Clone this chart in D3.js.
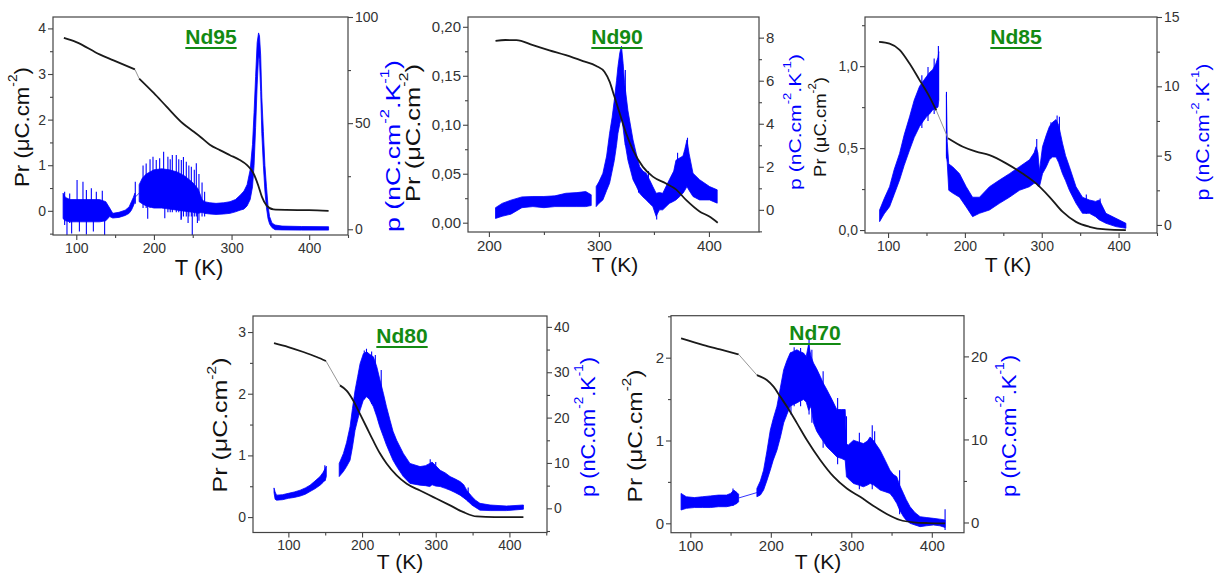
<!DOCTYPE html>
<html><head><meta charset="utf-8">
<script src="https://cdn.jsdelivr.net/npm/d3@7"></script>
<style>
body{margin:0;background:#fff}
svg{display:block}
text{font-family:"Liberation Sans",Arial,Helvetica,sans-serif}
</style>
</head><body>
<svg id="c" width="1215" height="574"></svg>
<script>
// ---------------- DATA ----------------
const panelNames = ["Nd95", "Nd90", "Nd85", "Nd80", "Nd70"];

// Nd95: Pr (black, left axis) and p envelope (blue, right axis)
const nd95_T  = [84, 100, 130, 148, 175.5, 181, 200, 216, 237, 250, 260, 272, 285, 298, 310, 320, 328, 334.5, 339, 345, 354, 370, 400, 425];
const nd95_Pr = [3.79, 3.70, 3.43, 3.30, 3.10, 2.90, 2.58, 2.29, 1.92, 1.75, 1.62, 1.45, 1.33, 1.22, 1.12, 1.00, 0.83, 0.55, 0.31, 0.12, 0.03, 0.02, 0.015, 0.0];
const nd95_thin = [175.5, 181];
const nd95_pT  = [83, 86, 92, 100, 110, 120, 130, 138, 143, 147, 155, 163, 168, 171, 173.5, 175.5,
                  181, 185, 190, 200, 210, 220, 230, 240, 250, 257, 262,
                  265, 272, 280, 290, 298, 305, 311, 316, 320, 324, 327, 329, 331, 333, 334.8, 336, 337.5, 339, 341, 343, 345, 347, 349, 352, 356, 365, 390, 425];
const nd95_pLo = [5, 4, 3.5, 3.5, 3.5, 3.5, 3.5, 4, 6, 5.3, 5.6, 6.5, 7.5, 9, 11, 13,
                  13, 12, 11, 10, 10, 9.5, 9, 8.5, 8, 7.5, 8,
                  7.5, 7.2, 7, 7.2, 7.5, 8.2, 9, 9.5, 11, 14, 20, 30, 48, 68, 82, 80, 65, 45, 30, 18, 10, 5, 2.5, 0.8, -0.2, -0.3, -0.4, -0.4];
const nd95_pHi = [17, 15, 14, 14, 14, 14, 14, 13, 10, 7.5, 8, 9, 10.5, 13, 15, 17,
                  21, 24, 26, 28, 28.5, 28, 27, 25, 22, 19, 14,
                  13, 12.5, 12.2, 12.5, 13, 14, 16, 18, 21, 28, 40, 55, 72, 88, 92.5, 91, 82, 62, 46, 30, 20, 11, 6, 3, 2, 1.5, 1.3, 1.2];
const nd95_gaps = [[175.5, 180.8, 1]];
const nd95_sT  = [85, 88, 91.5, 94, 101, 104, 108.6, 113, 119.4, 122, 125.8, 133.5, 136.5, 176,
                  186, 190, 195, 198.8, 203, 207.4, 212.5, 218, 221, 223.7, 228.8, 232, 235.3, 238, 241.7, 245, 248.2, 249.4, 252, 254.6, 258, 262, 265.3,
                  192, 214, 235, 244, 256];
const nd95_sLo = [2, -2.7, 3, -2, 5, -1, 5, -2.5, 5, -1, 5, 5, -2.7, 12,
                  10, 10, 10, 10, 10, 10, 10, 8, 8, 8, 8, 8, 5, 6, 6, 6, 6, -2.7, 6, 6, 4, 6, 6,
                  5, 5.2, 4.4, 3, 3];
const nd95_sHi = [17.7, 10, 16.9, 8, 23.2, 8, 22.4, 18.5, 19.3, 8, 17.7, 18.2, 8, 22.4,
                  30, 31, 33, 34.2, 32.6, 33.4, 36.5, 34.2, 33, 35, 35, 33, 32.6, 34, 31.8, 30, 29.5, 8, 28, 31.1, 26, 22, 17.7,
                  12, 12, 12, 10, 10];

// Nd90
const nd90_T  = [206, 215, 225, 240, 255, 270, 285.5, 297.6, 305, 309.7, 314, 318.8, 324.8, 331, 340, 349, 361, 370, 379.4, 391.5, 400, 408];
const nd90_Pr = [0.1857, 0.1865, 0.1864, 0.1813, 0.176, 0.171, 0.165, 0.160, 0.154, 0.144, 0.129, 0.112, 0.091, 0.074, 0.057, 0.047, 0.040, 0.034, 0.023, 0.0115, 0.0065, 0.0];
const nd90_thin = [];
const nd90_pT  = [206, 212, 220, 230, 240, 250, 260, 270, 280, 288, 293,
                  297.5, 300, 303.6, 307, 309.7, 312, 314, 316, 317.3, 319, 320.5, 322, 323.3, 326.4, 331, 334, 337, 340, 343, 346, 349, 352, 355, 358, 364, 368, 370, 373, 376.4, 378, 380, 382, 385.5, 391.5, 400.6, 407.5];
const nd90_pLo = [-0.4, -0.3, -0.2, 0.1, 0.15, 0.1, 0.15, 0.15, 0.15, 0.15, 0.2,
                  0.15, 0.3, 0.46, 0.9, 1.24, 1.8, 2.3, 3.0, 3.56, 4.0, 4.3, 3.8, 3.25, 2.3, 1.4, 1.1, 0.77, 0.6, 0.46, 0.3, 0.15, -0.3, 0.0, 0.0, 0.3, 0.4, 0.46, 0.6, 0.77, 0.9, 1.08, 0.9, 0.62, 0.46, 0.46, 0.31];
const nd90_pHi = [0.1, 0.3, 0.45, 0.6, 0.62, 0.62, 0.65, 0.77, 0.8, 0.85, 0.7,
                  1.08, 1.3, 1.7, 2.5, 3.56, 4.3, 5.1, 6.0, 6.66, 7.3, 7.6, 6.8, 5.9, 4.6, 3.25, 2.6, 2.0, 1.8, 1.7, 1.4, 1.08, 0.77, 0.8, 0.77, 1.4, 1.8, 2.3, 2.4, 2.5, 2.8, 3.25, 2.6, 1.7, 1.4, 1.08, 0.93];
const nd90_gaps = [[293, 297.5, 0]];
const nd90_sT  = [336, 345, 352.5, 371.5, 380.5, 324];
const nd90_sLo = [0.8, 0.4, -0.45, 1, 1.2, 3];
const nd90_sHi = [2.1, 1.8, 0.6, 2.65, 3.35, 6.5];

// Nd85
const nd85_T  = [88.3, 102, 115, 128, 141, 154, 162.8, 178, 197.4, 214.7, 232, 253.7, 275, 292.6, 310, 327, 344.6, 362, 383.5, 409.5];
const nd85_Pr = [1.148, 1.138, 1.10, 1.016, 0.915, 0.813, 0.73, 0.56, 0.508, 0.478, 0.457, 0.407, 0.345, 0.285, 0.203, 0.112, 0.05, 0.02, 0.004, 0.0];
const nd85_thin = [162.8, 178];
const nd85_pT  = [89, 95, 102, 108, 115, 121, 128, 134, 141, 146, 150, 154, 158, 162, 165, 166,
                  176, 177, 179, 184, 193, 201.7, 210, 219, 232, 245, 258, 271, 284, 290, 292.6, 295, 297, 301, 306, 310, 314, 318.6, 322, 327, 331, 336, 344.6, 353, 362, 370, 375, 383.5, 396.5, 409.5];
const nd85_pLo = [0.24, 0.8, 1.32, 2.2, 3.24, 4.3, 5.4, 6.3, 7.1, 7.5, 7.8, 8.0, 8.3, 8.4, 8.5, 9,
                  5, 4.5, 2.5, 2.3, 2.0, 1.3, 0.6, 0.84, 1.08, 1.56, 2.0, 2.5, 2.76, 3.0, 3.0, 2.8, 2.76, 3.7, 4.2, 4.7, 4.9, 4.9, 4.5, 3.7, 3.2, 2.5, 1.56, 0.84, 0.84, 0.6, 0.36, 0.12, -0.12, -0.24];
const nd85_pHi = [1.08, 1.9, 2.76, 4.0, 5.16, 6.5, 7.8, 9.0, 10.0, 10.4, 10.7, 11.0, 11.2, 11.6, 12.1, 12.5,
                  9.4, 6, 4.4, 4.2, 3.7, 2.76, 2.0, 2.0, 2.76, 3.24, 3.7, 4.2, 4.7, 5.2, 5.64, 5.2, 3.9, 5.64, 6.5, 7.1, 7.4, 7.6, 7.2, 5.9, 5.0, 4.2, 2.76, 2.0, 1.8, 1.7, 1.8, 0.84, 0.48, 0.12];
const nd85_gaps = [[166, 176, 0]];
const nd85_sT  = [165.5, 176, 293.5, 312, 320, 323, 376, 358, 160, 152, 144];
const nd85_sLo = [9, 4.8, 3, 5, 5, 4.8, 0.4, 0.8, 8, 7.5, 7];
const nd85_sHi = [12.9, 9.6, 6.2, 7.4, 7.9, 7.8, 1.9, 2.2, 12, 11.4, 10.8];

// Nd80
const nd80_T  = [80.5, 100, 120.4, 138.5, 151, 170, 179, 188, 197, 206, 215, 224.4, 233.5, 247, 260.6, 278.7, 296.8, 319.5, 337.6, 355.7, 380, 419];
const nd80_Pr = [2.82, 2.757, 2.676, 2.595, 2.53, 2.135, 2.05, 1.89, 1.676, 1.46, 1.243, 1.03, 0.865, 0.676, 0.54, 0.43, 0.324, 0.19, 0.08, 0.01, 0.0, 0.0];
const nd80_thin = [151, 170];
const nd80_pT  = [80.5, 82, 84, 92, 100, 108, 116, 123, 129.4, 136, 143, 147, 150, 151.5,
                  169, 174.7, 179, 183.7, 187, 190.5, 194, 197.3, 201.8, 206.3, 210, 215.4, 220, 224, 229, 233, 238, 242, 247, 256, 265, 278.7, 286, 292, 295, 300, 306, 313, 319.5, 326, 333, 338, 342, 346, 349, 354, 360, 373.8, 396, 419];
const nd80_pLo = [3.5, 2, 1.8, 1.9, 2.2, 2.4, 2.7, 3.1, 3.7, 4.3, 5.1, 5.7, 6.2, 7,
                  7.0, 8.1, 9.2, 10.6, 13.5, 17.2, 19.5, 21.6, 23.9, 24.6, 24, 22.4, 20.2, 18, 15.8, 14, 12.1, 10.6, 9.2, 7.0, 5.5, 5.1, 5.0, 4.8, 5.2, 4.9, 4.8, 4.4, 4.0, 3.5, 2.9, 2.3, 1.8, 1.2, 0.73, 0.2, -0.4, -0.5, -0.5, -0.2];
const nd80_pHi = [4.5, 3.6, 2.9, 3.0, 3.3, 3.6, 4.0, 4.5, 5.1, 6.0, 7.0, 7.9, 8.8, 9.3,
                  9.9, 12.1, 14.5, 18, 22, 26, 29, 31.9, 34.1, 34.5, 34, 33.4, 31.2, 28.5, 25.3, 22.5, 19.4, 17, 15, 12.1, 9.9, 9.2, 9.4, 9.9, 10.2, 9.4, 8.4, 7.8, 7.0, 6.5, 5.9, 5.2, 4.0, 3.2, 2.6, 1.8, 1.1, 0.73, 0.5, 0.73];
const nd80_gaps = [[151.5, 169, 0]];
const nd80_sT  = [206, 203, 213, 292.5, 300, 344, 149.5, 218, 226];
const nd80_sLo = [25, 24, 23, 5, 5, 1.5, 6, 22, 18];
const nd80_sHi = [35.2, 34.8, 34.6, 10.8, 10.2, 4.6, 9.5, 33.8, 30.5];

// Nd70
const nd70_T  = [88.5, 116.5, 137, 160, 182.7, 195, 203.4, 211.7, 220, 232.4, 244.8, 261.4, 278, 294.5, 311, 327.6, 344, 360.6, 377, 395, 416.5];
const nd70_Pr = [2.233, 2.153, 2.10, 2.04, 1.79, 1.73, 1.65, 1.53, 1.41, 1.21, 1.006, 0.765, 0.563, 0.42, 0.32, 0.21, 0.113, 0.04, 0.012, 0.003, 0.0];
const nd70_thin = [160, 182.7];
const nd70_pT  = [88.5, 95, 105, 115, 125, 135, 145, 150, 154, 158, 160,
                  182.7, 187, 191, 195, 199.3, 203, 207.6, 212, 216, 220, 224, 228, 232.4, 236, 240.7, 244, 247, 250, 253, 257, 261.4, 265, 269.6, 276, 282, 288, 292.4, 294, 296, 302.7, 309, 315, 320, 323.4, 328, 335.8, 342, 348, 352, 356.5, 360, 364.8, 368, 373, 379, 385.5, 393, 402, 410, 416.5];
const nd70_pLo = [1.5, 1.7, 1.8, 1.8, 1.8, 1.9, 1.9, 2.0, 2.1, 2.3, 2.5,
                  3.1, 3.3, 3.9, 5.0, 6.3, 7.5, 8.7, 10.3, 12, 13, 14, 14.2, 14.4, 14.6, 14.8, 14.5, 13.5, 14, 12, 11, 10.3, 9.8, 9.1, 8.5, 7.9, 7.7, 7.5, 5.5, 5.3, 4.7, 4.5, 4.3, 4.5, 4.7, 4.5, 3.9, 3.7, 3.5, 3.0, 2.3, 1.5, 0.7, 0.3, -0.1, -0.3, -0.5, -0.4, -0.3, -0.4, -0.6];
const nd70_pHi = [3.5, 3.1, 3.0, 3.1, 3.2, 3.3, 3.3, 3.5, 3.9, 3.6, 3.4,
                  4.1, 5.0, 6.3, 8.5, 11.1, 12.5, 14, 16.3, 18.4, 19.5, 20.4, 20.6, 20.8, 20.6, 20.4, 20, 21.5, 20, 19.2, 18.5, 17.6, 16.8, 16, 14.8, 13.6, 13.6, 13.6, 9.5, 9.3, 9.9, 9.7, 9.5, 9.8, 10.3, 9.8, 8.7, 7.5, 6.3, 5.8, 5.5, 4.5, 3.5, 2.8, 1.9, 1.2, 0.7, 0.6, 0.5, 0.4, 0.3];
const nd70_gaps = [[160, 182.7, 1]];
const nd70_sT  = [247.5, 229, 237, 225, 251, 326, 329, 294, 416.5, 360, 153, 265, 283, 310];
const nd70_sLo = [13, 14, 14, 13, 12, 4, 4.5, 7, -0.9, 1, 2, 9, 7, 4];
const nd70_sHi = [22.2, 21.1, 21, 20.5, 20.8, 11.7, 11, 12.8, 1.6, 6.3, 4.1, 18.2, 15, 10.8];

// Tick values
const nd95_xTicks = [100, 200, 300, 400], nd95_lTicks = [0, 1, 2, 3, 4], nd95_rTicks = [0, 50, 100];
const nd90_xTicks = [200, 300, 400], nd90_lTicks = [0, 0.05, 0.10, 0.15, 0.20], nd90_rTicks = [0, 2, 4, 6, 8];
const nd85_xTicks = [100, 200, 300, 400], nd85_lTicks = [0, 0.5, 1.0], nd85_rTicks = [0, 5, 10, 15];
const nd80_xTicks = [100, 200, 300, 400], nd80_lTicks = [0, 1, 2, 3], nd80_rTicks = [0, 10, 20, 30, 40];
const nd70_xTicks = [100, 200, 300, 400], nd70_lTicks = [0, 1, 2], nd70_rTicks = [0, 10, 20];

// ---------------- LAYOUT ----------------
const BLUE = "#0000ff", GREEN = "#138a13", AXIS = "#444", TXT = "#333";
const comma = d3.formatLocale({decimal: ",", thousands: ".", grouping: [3], currency: ["", ""]});
const fInt = d3.format("d"), fC2 = comma.format(".2f"), fC1 = comma.format(".1f");

// lLab / rLab: [centerX, centerY, fontSize, targetLength]
const layout = {
  Nd95: {x0: 53, x1: 348, y0: 17, y1: 235, xDom: [70, 450], lDom: [-0.53, 4.25], rDom: [-2.7, 100],
         xMinor: 50, lMinor: 0.5, rMinor: 25, lFmt: fInt, tickFs: 14,
         title: [211, 44], xLab: [199, 275, 22], lLab: [21, 127, 21, 120], rLab: [393, 146, 20, 172]},
  Nd90: {x0: 468, x1: 759, y0: 17, y1: 232, xDom: [181, 445.5], lDom: [-0.0095, 0.21], rDom: [-1.03, 8.96],
         xMinor: 50, lMinor: 0.025, rMinor: 1, lFmt: fC2, tickFs: 15,
         title: [617, 44], xLab: [615, 272, 21], lLab: [413, 133, 21, 138], rLab: [795, 122, 17, 136]},
  Nd85: {x0: 865, x1: 1157, y0: 17, y1: 233, xDom: [70, 450], lDom: [-0.018, 1.3], rDom: [-0.58, 15],
         xMinor: 50, lMinor: 0.25, rMinor: 2.5, lFmt: fC1, tickFs: 14,
         title: [1016, 44], xLab: [1008, 272, 21], lLab: [820, 127, 17, 100], rLab: [1203, 132, 18, 137]},
  Nd80: {x0: 253, x1: 547, y0: 316, y1: 532.5, xDom: [52, 451], lDom: [-0.25, 3.26], rDom: [-5.33, 42.4],
         xMinor: 50, lMinor: 0.5, rMinor: 5, lFmt: fInt, tickFs: 14,
         title: [402, 343], xLab: [400, 569, 21], lLab: [220, 425, 20, 135], rLab: [587, 427, 20, 140]},
  Nd70: {x0: 671, x1: 964, y0: 315.7, y1: 532.7, xDom: [76, 440], lDom: [-0.1135, 2.507], rDom: [-1.23, 24.9],
         xMinor: 50, lMinor: 0.5, rMinor: 5, lFmt: fInt, tickFs: 15,
         title: [815, 340], xLab: [818, 569, 21], lLab: [635, 436, 20, 133], rLab: [1008, 426, 20, 142]}
};

const dataByName = {
  Nd95: {T: nd95_T, Pr: nd95_Pr, thin: nd95_thin, pT: nd95_pT, pLo: nd95_pLo, pHi: nd95_pHi, gaps: nd95_gaps, sT: nd95_sT, sLo: nd95_sLo, sHi: nd95_sHi, xT: nd95_xTicks, lT: nd95_lTicks, rT: nd95_rTicks},
  Nd90: {T: nd90_T, Pr: nd90_Pr, thin: nd90_thin, pT: nd90_pT, pLo: nd90_pLo, pHi: nd90_pHi, gaps: nd90_gaps, sT: nd90_sT, sLo: nd90_sLo, sHi: nd90_sHi, xT: nd90_xTicks, lT: nd90_lTicks, rT: nd90_rTicks},
  Nd85: {T: nd85_T, Pr: nd85_Pr, thin: nd85_thin, pT: nd85_pT, pLo: nd85_pLo, pHi: nd85_pHi, gaps: nd85_gaps, sT: nd85_sT, sLo: nd85_sLo, sHi: nd85_sHi, xT: nd85_xTicks, lT: nd85_lTicks, rT: nd85_rTicks},
  Nd80: {T: nd80_T, Pr: nd80_Pr, thin: nd80_thin, pT: nd80_pT, pLo: nd80_pLo, pHi: nd80_pHi, gaps: nd80_gaps, sT: nd80_sT, sLo: nd80_sLo, sHi: nd80_sHi, xT: nd80_xTicks, lT: nd80_lTicks, rT: nd80_rTicks},
  Nd70: {T: nd70_T, Pr: nd70_Pr, thin: nd70_thin, pT: nd70_pT, pLo: nd70_pLo, pHi: nd70_pHi, gaps: nd70_gaps, sT: nd70_sT, sLo: nd70_sLo, sHi: nd70_sHi, xT: nd70_xTicks, lT: nd70_lTicks, rT: nd70_rTicks}
};

const svg = d3.select("#c");

function minorTicks(dom, step, majors) {
  const out = [];
  const start = Math.ceil(dom[0] / step - 1e-9);
  for (let k = start; k * step <= dom[1] + 1e-9; k++) {
    const v = +(k * step).toFixed(6);
    if (!majors.some(m => Math.abs(m - v) < 1e-9)) out.push(v);
  }
  return out;
}

function supLabel(sel, parts) {
  parts.forEach(([t, s], i) => {
    const prevSup = i > 0 && parts[i - 1][1];
    const ts = sel.append("tspan").text(t);
    if (s) ts.attr("font-size", "0.62em").attr("dy", "-0.7em");
    else if (prevSup) ts.attr("dy", "0.434em");
  });
}

function rotLabel(g, spec, color, parts) {
  const [cx, cy, fs, len] = spec;
  const t = g.append("text").attr("text-anchor", "middle").attr("dominant-baseline", "central")
    .attr("font-size", fs).attr("fill", color);
  supLabel(t, parts);
  const w = t.node().getBBox().width;
  const k = len / w;
  t.attr("transform", `translate(${cx},${cy}) rotate(-90) scale(${k},1)`);
}

function drawPanel(name) {
  const L = layout[name], D = dataByName[name];
  const x = d3.scaleLinear().domain(L.xDom).range([L.x0, L.x1]);
  const yL = d3.scaleLinear().domain(L.lDom).range([L.y1, L.y0]);
  const yR = d3.scaleLinear().domain(L.rDom).range([L.y1, L.y0]);
  const g = svg.append("g");

  const clipId = "clip" + name;
  svg.append("clipPath").attr("id", clipId).append("rect")
    .attr("x", L.x0).attr("y", L.y0).attr("width", L.x1 - L.x0).attr("height", L.y1 - L.y0);
  const plot = g.append("g").attr("clip-path", `url(#${clipId})`);

  // blue envelope, split into segments at gaps
  const pts = D.pT.map((t, i) => ({t, lo: D.pLo[i], hi: D.pHi[i]}));
  const segs = []; let cur = [];
  pts.forEach((d, i) => {
    if (i > 0 && D.gaps.some(gp => pts[i - 1].t <= gp[0] && d.t >= gp[1])) { segs.push(cur); cur = []; }
    cur.push(d);
  });
  segs.push(cur);
  const area = d3.area().x(d => x(d.t)).y0(d => yR(d.lo)).y1(d => yR(d.hi));
  segs.forEach(s => plot.append("path").attr("d", area(s))
    .attr("fill", BLUE).attr("stroke", BLUE).attr("stroke-width", 0.8).attr("stroke-linejoin", "round"));
  D.gaps.filter(gp => gp[2]).forEach(gp => {
    const a = pts.filter(d => d.t <= gp[0]).slice(-1)[0];
    const b = pts.find(d => d.t >= gp[1]);
    plot.append("line").attr("x1", x(a.t)).attr("x2", x(b.t))
      .attr("y1", yR((a.lo + a.hi) / 2)).attr("y2", yR((b.lo + b.hi) / 2))
      .attr("stroke", BLUE).attr("stroke-width", 0.8);
  });
  plot.selectAll("line.sp").data(D.sT.map((t, i) => ({t, lo: D.sLo[i], hi: D.sHi[i]}))).enter()
    .append("line").attr("class", "sp")
    .attr("x1", d => x(d.t)).attr("x2", d => x(d.t))
    .attr("y1", d => yR(d.lo)).attr("y2", d => yR(d.hi))
    .attr("stroke", BLUE).attr("stroke-width", 1.1);

  // black Pr curve
  const bl = D.T.map((t, i) => ({t, v: D.Pr[i]}));
  const line = d3.line().x(d => x(d.t)).y(d => yL(d.v)).curve(d3.curveMonotoneX);
  if (D.thin.length) {
    const before = bl.filter(d => d.t <= D.thin[0]);
    const after = bl.filter(d => d.t >= D.thin[1]);
    const mid = bl.filter(d => d.t >= D.thin[0] && d.t <= D.thin[1]);
    plot.append("path").attr("d", d3.line().x(d => x(d.t)).y(d => yL(d.v))(mid))
      .attr("fill", "none").attr("stroke", "#8a8a8a").attr("stroke-width", 0.9);
    [before, after].forEach(s => plot.append("path").attr("d", line(s))
      .attr("fill", "none").attr("stroke", "#1a1a1a").attr("stroke-width", 1.8));
  } else {
    plot.append("path").attr("d", line(bl)).attr("fill", "none").attr("stroke", "#1a1a1a").attr("stroke-width", 1.8);
  }

  // frame
  g.append("rect").attr("x", L.x0).attr("y", L.y0).attr("width", L.x1 - L.x0).attr("height", L.y1 - L.y0)
    .attr("fill", "none").attr("stroke", AXIS).attr("stroke-width", 1.2);

  const styleAxis = (sel) => {
    sel.select(".domain").remove();
    sel.selectAll("line").attr("stroke", AXIS).attr("stroke-width", 1.1);
    sel.selectAll("text").attr("fill", TXT).attr("font-size", L.tickFs).attr("font-family", null);
  };
  g.append("g").attr("transform", `translate(0,${L.y1})`)
    .call(d3.axisBottom(x).tickValues(D.xT).tickSize(5).tickPadding(3).tickFormat(fInt)).call(styleAxis);
  g.append("g").attr("transform", `translate(0,${L.y1})`)
    .call(d3.axisBottom(x).tickValues(minorTicks(L.xDom, L.xMinor, D.xT)).tickSize(3).tickFormat("")).call(styleAxis);
  g.append("g").attr("transform", `translate(${L.x0},0)`)
    .call(d3.axisLeft(yL).tickValues(D.lT).tickSize(5).tickPadding(2).tickFormat(L.lFmt)).call(styleAxis);
  g.append("g").attr("transform", `translate(${L.x0},0)`)
    .call(d3.axisLeft(yL).tickValues(minorTicks(L.lDom, L.lMinor, D.lT)).tickSize(3).tickFormat("")).call(styleAxis);
  g.append("g").attr("transform", `translate(${L.x1},0)`)
    .call(d3.axisRight(yR).tickValues(D.rT).tickSize(5).tickPadding(2).tickFormat(fInt)).call(styleAxis);
  g.append("g").attr("transform", `translate(${L.x1},0)`)
    .call(d3.axisRight(yR).tickValues(minorTicks(L.rDom, L.rMinor, D.rT)).tickSize(3).tickFormat("")).call(styleAxis);

  // axis titles
  g.append("text").attr("x", L.xLab[0]).attr("y", L.xLab[1]).attr("text-anchor", "middle")
    .attr("font-size", L.xLab[2]).attr("fill", "#111").text("T (K)");
  rotLabel(g, L.lLab, "#111", [["Pr (\u03BCC.cm", false], ["-2", true], [")", false]]);
  rotLabel(g, L.rLab, BLUE, [["p (nC.cm", false], ["-2", true], [".K", false], ["-1", true], [")", false]]);

  // panel title (green, bold, underlined)
  const tt = g.append("text").attr("x", L.title[0]).attr("y", L.title[1]).attr("text-anchor", "middle")
    .attr("font-size", 21).attr("font-weight", "bold").attr("fill", GREEN).text(name);
  const w = tt.node().getComputedTextLength();
  g.append("line").attr("x1", L.title[0] - w / 2).attr("x2", L.title[0] + w / 2)
    .attr("y1", L.title[1] + 4).attr("y2", L.title[1] + 4).attr("stroke", GREEN).attr("stroke-width", 2);
}

panelNames.forEach(drawPanel);
</script>
</body></html>
